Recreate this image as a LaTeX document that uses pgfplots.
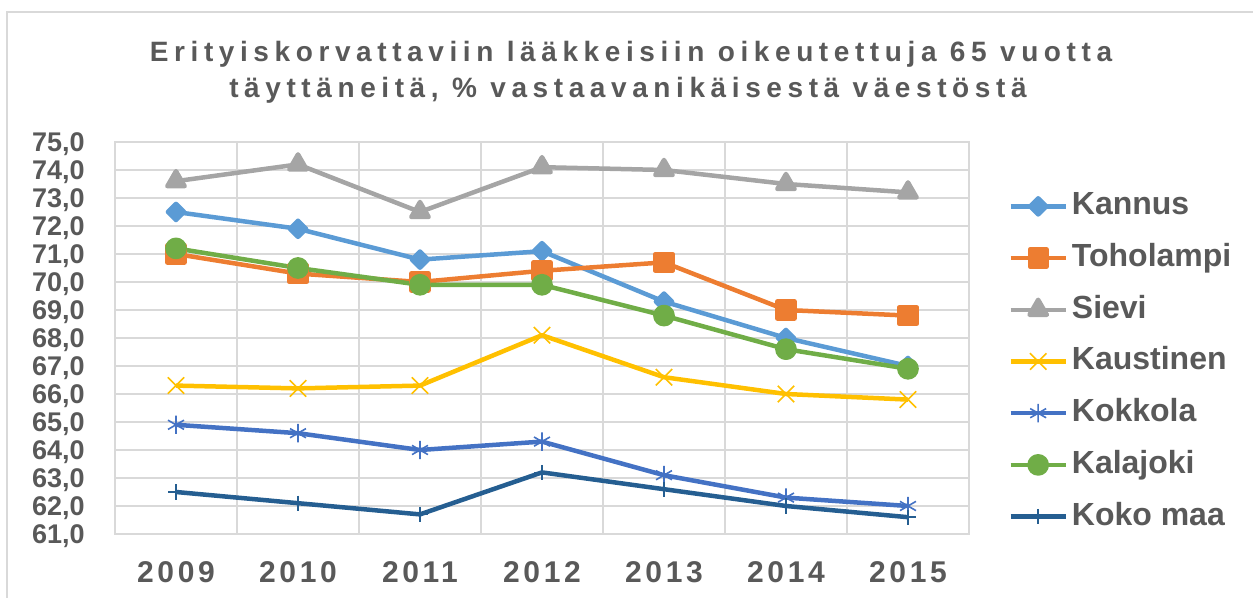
\documentclass[border=0pt]{standalone}
\usepackage{fontspec}
\setmainfont{Liberation Sans}
\newfontfamily\titlefont[LetterSpace=20]{Liberation Sans}
\newfontfamily\yearfont[LetterSpace=12]{Liberation Sans}
\usepackage{pgfplots}
\usepackage{pgfplotstable}
\pgfplotsset{compat=1.18}

\definecolor{textgray}{HTML}{595959}
\definecolor{gridgray}{HTML}{D9D9D9}
\definecolor{ckannus}{HTML}{5B9BD5}
\definecolor{ctoholampi}{HTML}{ED7D31}
\definecolor{csievi}{HTML}{A5A5A5}
\definecolor{ckaustinen}{HTML}{FFC000}
\definecolor{ckokkola}{HTML}{4472C4}
\definecolor{ckalajoki}{HTML}{70AD47}
\definecolor{ckokomaa}{HTML}{255E91}

% year index: 0 = 2009 ... 6 = 2015
\pgfplotstableread{
i kannus toholampi sievi kaustinen kokkola kalajoki kokomaa
0 72.5 71.0 73.6 66.3 64.9 71.2 62.5
1 71.9 70.3 74.2 66.2 64.6 70.5 62.1
2 70.8 70.0 72.5 66.3 64.0 69.9 61.7
3 71.1 70.4 74.1 68.1 64.3 69.9 63.2
4 69.3 70.7 74.0 66.6 63.1 68.8 62.6
5 68.0 69.0 73.5 66.0 62.3 67.6 62.0
6 67.0 68.8 73.2 65.8 62.0 66.9 61.6
}\datatable

\begin{document}
\begin{tikzpicture}
\useasboundingbox (0,0) rectangle (626.5pt,299pt);
\draw[gridgray, line width=0.9pt] (3.5pt,-5pt) -- (3.5pt,293pt) -- (640pt,293pt);
\node[anchor=base, text=textgray, inner sep=0pt,
      font=\titlefont\bfseries\fontsize{14}{17}\selectfont]
  at (315.5pt,268pt) {Erityiskorvattaviin lääkkeisiin oikeutettuja 65 vuotta};
\node[anchor=base, text=textgray, inner sep=0pt,
      font=\titlefont\bfseries\fontsize{14}{17}\selectfont]
  at (314pt,250pt) {täyttäneitä, \% vastaavanikäisestä väestöstä};

\begin{axis}[
    at={(57.5pt,32pt)}, anchor=south west,
    width=427pt, height=196pt, scale only axis,
    xmin=-0.5, xmax=6.5, ymin=61, ymax=75,
    xtick={0,...,6},
    xticklabels={2009,2010,2011,2012,2013,2014,2015},
    ytick={61,62,...,75},
    extra x ticks={0.5,1.5,2.5,3.5,4.5,5.5},
    extra x tick labels={},
    extra x tick style={grid=major},
    xmajorgrids=false, ymajorgrids=true,
    major grid style={gridgray, line width=0.8pt},
    axis line style={gridgray, line width=0.8pt},
    major tick length=0pt,
    tick style={draw=none},
    /pgf/number format/fixed,
    /pgf/number format/fixed zerofill,
    /pgf/number format/precision=1,
    /pgf/number format/use comma,
    /pgf/number format/assume math mode=true,
    yticklabel style={font=\bfseries\fontsize{13.5}{16}\selectfont,
        text=textgray, anchor=base east, inner sep=0pt,
        xshift=-15pt, yshift=-4.8pt},
    xticklabel style={font=\yearfont\bfseries\fontsize{15}{18}\selectfont,
        text=textgray, anchor=base, inner sep=0pt, yshift=-24.5pt},
    every axis plot/.append style={line width=2.25pt, line join=round},
    legend style={draw=none, fill=none, inner sep=0pt,
        at={(1.0457,0.8763)}, anchor=north west,
        font=\bfseries\fontsize{16}{19}\selectfont, text=textgray,
        row sep=10.35pt, column sep=2pt,
        nodes={inner sep=0pt, text height=12pt, text depth=3.5pt}},
    legend cell align=left,
    legend image code/.code={
        \draw[mark repeat=2, mark phase=2, #1]
            plot coordinates {(0pt,0pt) (13.75pt,0pt) (27.5pt,0pt)};},
]
\addplot[ckannus, mark=square*, mark size=2.85pt,
    mark options={rotate=45, fill=ckannus}] table[x=i, y=kannus] {\datatable};
\addlegendentry{Kannus}
\addplot[ctoholampi, mark=square*, mark size=4.2pt,
    mark options={fill=ctoholampi}] table[x=i, y=toholampi] {\datatable};
\addlegendentry{Toholampi}
\addplot[csievi, mark=triangle*, mark size=5pt,
    mark options={fill=csievi}] table[x=i, y=sievi] {\datatable};
\addlegendentry{Sievi}
\addplot[ckaustinen, mark=x, mark size=5.8pt,
    mark options={line width=0.8pt}] table[x=i, y=kaustinen] {\datatable};
\addlegendentry{Kaustinen}
\addplot[ckokkola, mark=asterisk, mark size=4.6pt,
    mark options={line width=0.8pt}] table[x=i, y=kokkola] {\datatable};
\addlegendentry{Kokkola}
\addplot[ckalajoki, mark=*, mark size=4.3pt,
    mark options={fill=ckalajoki}] table[x=i, y=kalajoki] {\datatable};
\addlegendentry{Kalajoki}
\addplot[ckokomaa, mark=+, mark size=3.8pt,
    mark options={line width=0.8pt}] table[x=i, y=kokomaa] {\datatable};
\addlegendentry{Koko maa}
\end{axis}
\end{tikzpicture}
\end{document}
